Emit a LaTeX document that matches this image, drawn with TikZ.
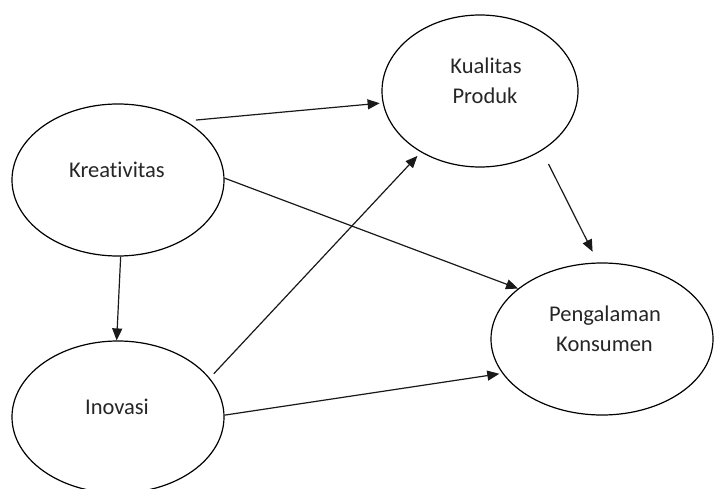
\documentclass[tikz,border=0pt]{standalone}
\usepackage{fontspec}
\setmainfont[RawFeature=-liga]{Carlito}
\usetikzlibrary{arrows.meta,shapes.geometric}
\tikzset{
  oval/.style={ellipse, draw=black, line width=1.2pt, inner sep=0pt},
  lbl/.style={anchor=base, inner sep=0pt, text=black!85, font=\fontsize{22.5}{27}\selectfont},
  conn/.style={line width=1.2pt, draw=black!90, -{Triangle[length=12pt,width=10pt]}}
}
\begin{document}
\begin{tikzpicture}[x=1pt,y=-1pt]
\clip (0,0) rectangle (714,489);
\fill[white] (0,0) rectangle (714,489);
% ellipses
\node[oval, minimum width=212pt, minimum height=152pt] (kre) at (118,180) {};
\node[oval, minimum width=196pt, minimum height=152pt] (kua) at (480,91) {};
\node[oval, minimum width=222pt, minimum height=152pt] (pen) at (602,339) {};
\node[oval, minimum width=212pt, minimum height=152pt] (ino) at (118,417) {};
% texts
\node[lbl] (kreT) at (117,178) {Kreativitas};
\node[lbl] (kuaT1) at (486,74) {Kualitas};
\node[lbl] (kuaT2) at (485,104) {Produk};
\node[lbl] (penT1) at (605,321) {Pengalaman};
\node[lbl] (penT2) at (604.5,351) {Konsumen};
\node[lbl] (inoT) at (117,414) {Inovasi};
% connectors
\draw[conn, shorten <=10pt, shorten >=3pt] (kre.41.6) -- (kua.187.5);
\draw[conn] (kre.1) -- (pen.149.9);
\draw[conn] (kre.272) -- (ino.91.5);
\draw[conn, shorten <=6pt, shorten >=5pt] (ino.23.5) -- (kua.226.3);
\draw[conn, shorten >=3pt] (ino.1) -- (pen.199.3);
\draw[conn, shorten <=15pt, shorten >=12pt] (kua.316.9) -- (pen.93.8);
\end{tikzpicture}
\end{document}
